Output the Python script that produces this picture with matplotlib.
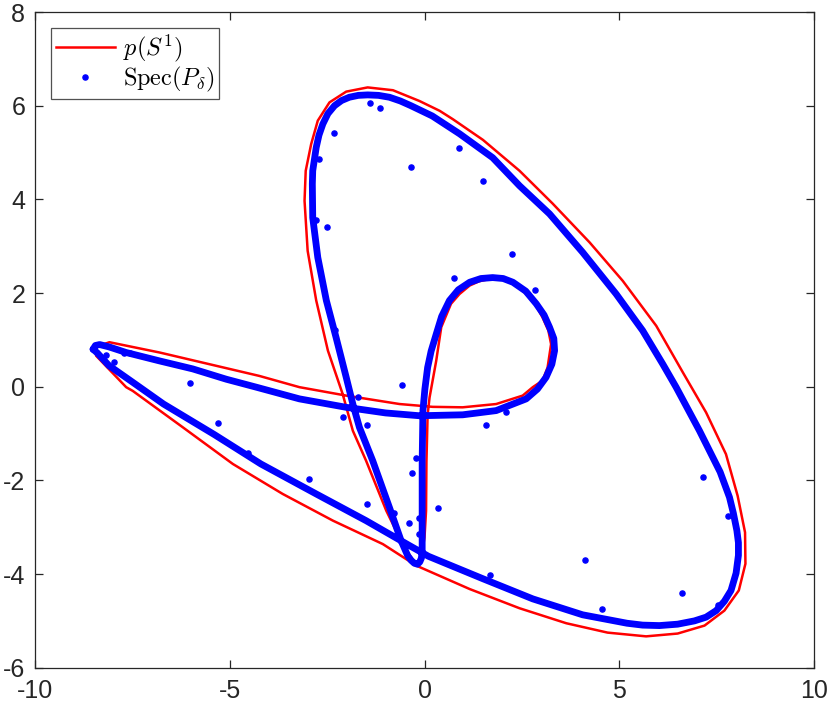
#!/usr/bin/env python3
"""Symbol curve p(S^1) against the spectrum of the perturbed Toeplitz matrix."""

import matplotlib

matplotlib.use("Agg")
import matplotlib.pyplot as plt

# red curve: image of the unit circle under the symbol
red_x = [-8.47, -8.09, -6.80, -5.52, -4.24, -3.21, -2.01, -0.64, 0.21, 0.98,
         1.84, 2.52, 2.78, 3.03, 3.16, 3.25, 3.18, 3.03, 2.85, 2.61,
         2.37, 2.10, 1.90, 1.67, 1.40, 1.16, 0.90, 0.68, 0.43, 0.30,
         0.13, 0.08, 0.05, 0.04, 0.00, -0.08, -0.21, -0.56, -0.98, -1.50,
         -1.84, -2.10, -2.48, -2.78, -3.00, -3.08, -3.05, -2.91, -2.74, -2.44,
         -2.01, -1.46, -0.81, -0.13, 0.39, 0.73, 1.50, 2.44, 3.29, 4.24,
         5.09, 5.95, 6.63, 7.23, 7.74, 8.04, 8.23, 8.24, 8.07, 7.70,
         7.19, 6.50, 5.69, 4.70, 3.64, 2.44, 1.16, -0.21, -1.07, -2.35,
         -3.64, -4.92, -6.20, -7.49, -7.66, -8.43, -8.47]
red_y = [0.84, 0.95, 0.73, 0.48, 0.23, -0.01, -0.19, -0.37, -0.43, -0.44,
         -0.37, -0.19, -0.01, 0.13, 0.41, 0.91, 1.20, 1.48, 1.75, 1.98,
         2.15, 2.26, 2.30, 2.30, 2.25, 2.16, 1.98, 1.77, 1.27, 0.55,
         -0.23, -0.60, -1.60, -2.65, -3.22, -3.64, -3.82, -3.36, -2.65, -1.58,
         -0.94, -0.16, 0.77, 1.84, 2.90, 3.97, 4.61, 5.18, 5.68, 6.07,
         6.30, 6.39, 6.33, 6.10, 5.89, 5.71, 5.27, 4.61, 3.91, 3.08,
         2.26, 1.30, 0.31, -0.55, -1.44, -2.33, -3.11, -3.78, -4.35, -4.78,
         -5.10, -5.27, -5.33, -5.25, -5.05, -4.73, -4.32, -3.82, -3.36, -2.86,
         -2.29, -1.65, -0.87, -0.09, -0.01, 0.66, 0.84]

# blue band: bulk of the eigenvalues, packed so densely they form a curve
blue_x = [-8.51, -8.45, -8.34, -8.10, -7.66, -6.80, -5.95, -5.09, -4.32, -3.21,
          -2.01, -1.00, -0.13, 0.98, 1.84, 2.61, 2.90, 3.12, 3.27, 3.34,
          3.32, 3.21, 3.07, 2.87, 2.60, 2.27, 2.02, 1.75, 1.45, 1.16,
          0.87, 0.64, 0.44, 0.30, 0.17, 0.08, 0.01, -0.04, -0.06, -0.06,
          -0.06, -0.08, -0.12, -0.18, -0.26, -0.34, -0.43, -0.60, -0.90, -1.33,
          -1.67, -1.84, -2.01, -2.27, -2.52, -2.74, -2.87, -2.88, -2.87, -2.78,
          -2.71, -2.61, -2.48, -2.31, -2.13, -1.93, -1.70, -1.46, -1.18, -0.90,
          -0.62, -0.35, 0.20, 0.90, 1.75, 2.44, 3.21, 4.06, 4.92, 5.60,
          6.12, 6.46, 7.06, 7.59, 7.83, 7.93, 8.02, 8.06, 8.06, 8.00,
          7.87, 7.70, 7.49, 7.23, 6.93, 6.50, 6.03, 5.60, 5.20, 4.06,
          2.78, 1.50, 0.10, -0.39, -1.50, -2.78, -4.20, -5.40, -6.70, -7.50,
          -8.10, -8.40, -8.51]
blue_y = [0.80, 0.88, 0.90, 0.85, 0.73, 0.55, 0.38, 0.16, -0.01, -0.26,
          -0.44, -0.56, -0.62, -0.60, -0.51, -0.26, -0.05, 0.20, 0.48, 0.77,
          1.03, 1.27, 1.53, 1.77, 2.04, 2.23, 2.31, 2.33, 2.31, 2.23,
          2.07, 1.84, 1.50, 1.12, 0.76, 0.41, -0.05, -0.51, -1.58, -2.65,
          -3.50, -3.66, -3.74, -3.79, -3.77, -3.71, -3.61, -3.29, -2.58, -1.58,
          -0.87, -0.37, 0.20, 1.05, 1.84, 2.76, 3.61, 4.33, 4.61, 5.11,
          5.37, 5.61, 5.83, 6.00, 6.11, 6.18, 6.22, 6.23, 6.22, 6.18,
          6.10, 6.00, 5.78, 5.40, 4.89, 4.29, 3.69, 2.87, 1.98, 1.20,
          0.48, -0.01, -0.94, -1.82, -2.36, -2.70, -3.07, -3.33, -3.60, -3.98,
          -4.35, -4.58, -4.78, -4.92, -5.00, -5.07, -5.10, -5.09, -5.05, -4.87,
          -4.53, -4.10, -3.62, -3.39, -2.86, -2.29, -1.65, -1.02, -0.37, 0.10,
          0.45, 0.72, 0.80]

# stray eigenvalues away from the band
dots_x = [-1.41, -1.14, -2.33, -2.70, -0.34, -2.78, -2.50, -2.29, 0.88, 1.49,
          2.24, 0.75, 2.84, -8.19, -7.98, -7.72, -7.55, -6.02, -5.31, -4.54,
          -2.96, -2.10, -1.72, -1.47, -0.58, -1.47, -0.79, -0.41, -0.22, -0.32,
          -0.15, -0.15, 1.57, 2.10, 0.34, -0.09, 1.67, 4.13, 4.55, 6.61,
          7.14, 7.80, 7.53]
dots_y = [6.05, 5.96, 5.42, 4.86, 4.70, 3.56, 3.42, 1.22, 5.09, 4.40,
          2.84, 2.32, 2.06, 0.67, 0.53, 0.72, 0.71, 0.08, -0.78, -1.41,
          -1.96, -0.65, -0.21, -0.81, 0.04, -2.50, -2.70, -2.90, -1.52, -1.84,
          -2.81, -3.14, -0.82, -0.55, -2.60, -2.80, -4.01, -3.69, -4.75, -4.41,
          -1.92, -2.76, -4.67]

x_ticks = [-10, -5, 0, 5, 10]
y_ticks = [-6, -4, -2, 0, 2, 4, 6, 8]

AX_COLOR = "#262626"

plt.rcParams["font.family"] = ["Liberation Sans", "DejaVu Sans"]
plt.rcParams["mathtext.fontset"] = "cm"

fig = plt.figure(figsize=(8.3, 7.06), dpi=100)
ax = fig.add_axes([0.0422, 0.0542, 0.9385, 0.9288])

ax.plot(red_x, red_y, color="#ff0000", linewidth=1.8, label=r"$p(S^1)$", zorder=2)
ax.plot(blue_x, blue_y, color="#0000ff", linewidth=4.9, solid_joinstyle="round",
        solid_capstyle="round", zorder=3)
ax.plot(dots_x, dots_y, linestyle="none", marker="o", markersize=3.7,
        color="#0000ff", label=r"$\mathrm{Spec}(P_\delta)$", zorder=4)

ax.set_xlim(-10, 10)
ax.set_ylim(-6, 8)
ax.set_xticks(x_ticks)
ax.set_yticks(y_ticks)
ax.set_xticklabels([str(t) for t in x_ticks])
ax.set_yticklabels([str(t) for t in y_ticks])

for side in ax.spines.values():
    side.set_color(AX_COLOR)
    side.set_linewidth(0.9)
ax.tick_params(direction="in", length=6, width=0.9, colors=AX_COLOR,
               labelsize=18, top=True, right=True)
ax.tick_params(axis="x", pad=8)
ax.tick_params(axis="y", pad=7)

leg = ax.legend(loc="upper left", fontsize=17.5, frameon=True, fancybox=False,
                edgecolor=AX_COLOR, borderpad=0.2, handlelength=2.45,
                handletextpad=0.3, labelspacing=0.02, borderaxespad=0.65)
leg.get_frame().set_linewidth(0.9)

fig.savefig("out.png", dpi=100)
plt.close(fig)
